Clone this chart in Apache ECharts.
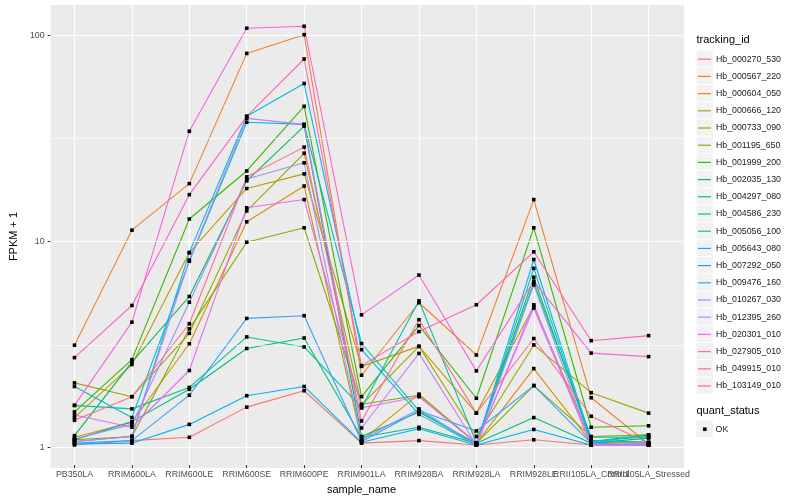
<!DOCTYPE html>
<html><head><meta charset="utf-8">
<script src="https://cdn.jsdelivr.net/npm/echarts@6/dist/echarts.min.js"></script>
<style>html,body{margin:0;padding:0;background:#fff}#c{width:800px;height:500px}</style>
</head><body><div id="c"></div>
<script>
// ---- data (FPKM + 1) ----
const categories = ['PB350LA','RRIM600LA','RRIM600LE','RRIM600SE','RRIM600PE','RRIM901LA','RRIM928BA','RRIM928LA','RRIM928LE','RRII105LA_Control','RRII105LA_Stressed'];
const seriesNames = ['Hb_000270_530','Hb_000567_220','Hb_000604_050','Hb_000666_120','Hb_000733_090','Hb_001195_650','Hb_001999_200','Hb_002035_130','Hb_004297_080','Hb_004586_230','Hb_005056_100','Hb_005643_080','Hb_007292_050','Hb_009476_160','Hb_010267_030','Hb_012395_260','Hb_020301_010','Hb_027905_010','Hb_049915_010','Hb_103149_010'];
const seriesColors = ['#F8766D','#EA8331','#D89000','#C09B00','#A3A500','#7CAE00','#39B600','#00BB4E','#00BF7D','#00C1A3','#00BFC4','#00BAE0','#00B0F6','#35A2FF','#9590FF','#C77CFF','#E76BF3','#FA62DB','#FF62BC','#FF6C91'];
const hb_000270_530 = [1.00, 1.05, 1.09, 1.53, 1.84, 1.02, 1.05, 1.00, 1.06, 1.00, 1.00];
const hb_000567_220 = [3.07, 11.2, 18.9, 81.8, 101, 2.19, 4.95, 2.75, 15.8, 1.70, 1.01];
const hb_000604_050 = [1.09, 1.29, 3.12, 12.3, 18.4, 1.05, 1.77, 1.02, 2.36, 1.03, 1.02];
const hb_000666_120 = [1.36, 2.47, 8.7, 17.9, 21.1, 2.42, 3.03, 1.43, 4.75, 1.05, 1.03];
const hb_000733_090 = [2.01, 1.72, 3.51, 13.9, 26.6, 1.57, 3.03, 1.10, 3.08, 1.80, 1.43];
const hb_001195_650 = [1.06, 1.10, 3.69, 9.78, 11.5, 1.58, 1.75, 1.02, 1.95, 1.10, 1.12];
const hb_001999_200 = [1.45, 2.61, 12.7, 21.8, 45.1, 1.72, 3.83, 1.69, 11.5, 1.22, 1.24];
const hb_002035_130 = [1.11, 2.54, 5.31, 19.5, 36.1, 1.10, 1.45, 1.02, 6.59, 1.04, 1.12];
const hb_004297_080 = [1.06, 1.30, 1.87, 2.96, 3.33, 1.09, 1.22, 1.02, 1.36, 1.02, 1.08];
const hb_004586_230 = [1.56, 1.50, 1.91, 3.37, 3.01, 1.52, 5.06, 1.02, 6.2, 1.09, 1.09];
const hb_005056_100 = [1.93, 1.36, 7.9, 37.7, 36.8, 3.13, 1.47, 1.00, 7.29, 1.04, 1.10];
const hb_005643_080 = [1.04, 1.10, 8.7, 40.3, 58.3, 2.92, 1.41, 1.00, 8.05, 1.05, 1.03];
const hb_007292_050 = [1.01, 1.02, 1.26, 1.74, 1.93, 1.03, 1.20, 1.00, 1.19, 1.00, 1.00];
const hb_009476_160 = [1.02, 1.05, 1.75, 4.15, 4.28, 1.04, 1.47, 1.17, 1.95, 1.02, 1.00];
const hb_010267_030 = [1.07, 1.26, 4.98, 19.9, 23.9, 1.06, 1.50, 1.00, 6.05, 1.00, 1.02];
const hb_012395_260 = [1.04, 1.10, 8.0, 39.4, 36.8, 1.21, 2.80, 1.00, 4.84, 1.00, 1.00];
const hb_020301_010 = [1.40, 1.22, 2.31, 14.4, 15.8, 1.52, 1.72, 1.02, 4.66, 1.00, 1.00];
const hb_027905_010 = [1.56, 3.98, 34.1, 108.6, 111, 4.32, 6.76, 2.30, 6.3, 2.81, 2.70];
const hb_049915_010 = [2.67, 4.80, 16.7, 40.3, 76.8, 2.44, 3.58, 4.84, 8.78, 3.23, 3.42];
const hb_103149_010 = [1.32, 1.72, 3.91, 20.4, 28.5, 1.31, 4.09, 1.43, 3.31, 1.38, 1.02];
const seriesValues = [hb_000270_530, hb_000567_220, hb_000604_050, hb_000666_120, hb_000733_090, hb_001195_650, hb_001999_200, hb_002035_130, hb_004297_080, hb_004586_230, hb_005056_100, hb_005643_080, hb_007292_050, hb_009476_160, hb_010267_030, hb_012395_260, hb_020301_010, hb_027905_010, hb_049915_010, hb_103149_010];
const yTickLabels = [1, 10, 100];
const yMinorBreaks = [3.1623, 31.623];
const statusLevels = ['OK'];

// ---- chart ----
const FONT = 'Liberation Sans, Arial, Helvetica, sans-serif';
const YMIN = 0.797, YMAX = 141;
const chart = echarts.init(document.getElementById('c'), null, {renderer: 'canvas'});

const lineSeries = seriesNames.map((n, i) => ({
  name: n, type: 'line', xAxisIndex: 1, yAxisIndex: 1,
  data: seriesValues[i], showSymbol: false, symbol: 'none', silent: true,
  lineStyle: {color: seriesColors[i], width: 1.1},
  itemStyle: {color: seriesColors[i]}, z: 3
}));
const pts = [];
seriesValues.forEach(arr => arr.forEach((v, j) => pts.push([j, v])));

const keyBoxes = [];
for (let i = 0; i < seriesNames.length; i++) {
  keyBoxes.push({type: 'rect', left: 696.5, top: 50.6 + i * 17.2, shape: {width: 16.3, height: 16.3}, style: {fill: '#F2F2F2'}, silent: true, z: -1});
}
keyBoxes.push({type: 'rect', left: 696.5, top: 420.6, shape: {width: 16.3, height: 16.3}, style: {fill: '#F2F2F2'}, silent: true, z: -1});

const option = {
  animation: false,
  textStyle: {fontFamily: FONT},
  title: [
    {text: 'tracking_id', left: 696.5, top: 34.5, padding: 0, textStyle: {fontFamily: FONT, fontSize: 11, fontWeight: 'normal', color: '#000'}},
    {text: 'quant_status', left: 696.5, top: 405.5, padding: 0, textStyle: {fontFamily: FONT, fontSize: 11, fontWeight: 'normal', color: '#000'}}
  ],
  graphic: keyBoxes,
  grid: [
    {left: 40, top: 5, width: 644, height: 463, show: true, backgroundColor: '#EBEBEB', borderWidth: 0},
    {left: 74.5, top: 5, width: 574.1, height: 463}
  ],
  xAxis: [
    {gridIndex: 0, type: 'value', min: 0, max: 1, show: false},
    {gridIndex: 1, type: 'category', data: categories, boundaryGap: false,
     axisLine: {show: false},
     axisTick: {show: true, length: 3, lineStyle: {color: '#333', width: 1}},
     axisLabel: {interval: 0, color: '#4D4D4D', fontSize: 8.8, margin: 5, fontFamily: FONT},
     splitLine: {show: true, lineStyle: {color: '#FFFFFF', width: 1.2}},
     name: 'sample_name', nameLocation: 'middle', nameGap: 14,
     nameTextStyle: {color: '#000', fontSize: 11, fontFamily: FONT}}
  ],
  yAxis: [
    {gridIndex: 0, type: 'log', logBase: 10, min: YMIN, max: YMAX,
     axisLine: {show: false},
     axisTick: {show: true, length: 3, customValues: yTickLabels, lineStyle: {color: '#333', width: 1}},
     axisLabel: {customValues: yTickLabels, color: '#4D4D4D', fontSize: 8.8, margin: 6, fontFamily: FONT,
                 formatter: v => String(Math.round(v))},
     splitLine: {show: false}, minorSplitLine: {show: false},
     name: 'FPKM + 1', nameLocation: 'middle', nameGap: 20,
     nameTextStyle: {color: '#000', fontSize: 11, fontFamily: FONT}},
    {gridIndex: 1, type: 'log', logBase: 10, min: YMIN, max: YMAX, show: false,
     splitLine: {show: false}}
  ],
  legend: [
    {data: seriesNames, orient: 'vertical', left: 697.9, top: 50.6, padding: 0, itemGap: 0,
     itemWidth: 13, itemHeight: 1.2, icon: 'rect', selectedMode: false,
     textStyle: {fontFamily: FONT, fontSize: 8.8, color: '#1A1A1A', lineHeight: 17.2}},
    {data: statusLevels, orient: 'vertical', left: 703, top: 420.6, padding: 0, itemGap: 0,
     itemWidth: 3.6, itemHeight: 3.6, icon: 'rect', selectedMode: false,
     textStyle: {fontFamily: FONT, fontSize: 8.8, color: '#1A1A1A', lineHeight: 17.2, padding: [0, 0, 0, 4]}}
  ],
  series: [
    {type: 'line', xAxisIndex: 0, yAxisIndex: 0, data: [], silent: true, z: 1,
     markLine: {silent: true, symbol: ['none', 'none'], label: {show: false}, animation: false,
       data: yTickLabels.map(v => ({yAxis: v, lineStyle: {color: '#FFFFFF', width: 1.2, type: 'solid'}}))
         .concat(yMinorBreaks.map(v => ({yAxis: v, lineStyle: {color: '#FFFFFF', width: 0.6, type: 'solid'}})))}},
    ...lineSeries,
    {name: statusLevels[0], type: 'scatter', xAxisIndex: 1, yAxisIndex: 1, data: pts,
     symbol: 'rect', symbolSize: 3.6, itemStyle: {color: '#000', opacity: 1}, silent: true, z: 6}
  ]
};
chart.setOption(option);
</script></body></html>
